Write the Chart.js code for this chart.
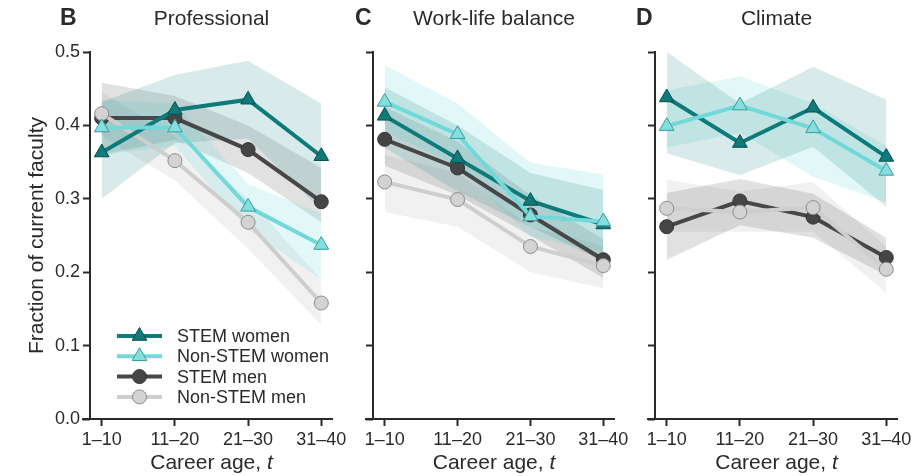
<!DOCTYPE html>
<html>
<head>
<meta charset="utf-8">
<script src="https://cdn.jsdelivr.net/npm/chart.js@4.4.1/dist/chart.umd.min.js"></script>
<style>
  html, body { margin: 0; padding: 0; background: #fff; }
  #wrap { position: relative; width: 918px; height: 476px; }
  #wrap canvas { position: absolute; left: 0; top: 0; }
</style>
</head>
<body>
<div id="wrap">
  <canvas id="panelB" width="918" height="476"></canvas>
  <canvas id="panelC" width="918" height="476"></canvas>
  <canvas id="panelD" width="918" height="476"></canvas>
</div>
<script>
// ---- data ----
const careerAges = ['1–10', '11–20', '21–30', '31–40'];
const yTicks = [0.0, 0.1, 0.2, 0.3, 0.4, 0.5];
const seriesNames = ['STEM women', 'Non-STEM women', 'STEM men', 'Non-STEM men'];
const panelLetters = ['B', 'C', 'D'];
const panelTitles = ['Professional', 'Work-life balance', 'Climate'];

// Professional
const proStemWomen      = [0.363, 0.421, 0.435, 0.358];
const proStemWomenLo    = [0.300, 0.376, 0.382, 0.285];
const proStemWomenHi    = [0.432, 0.469, 0.488, 0.430];
const proNonStemWomen   = [0.397, 0.397, 0.289, 0.237];
const proNonStemWomenLo = [0.360, 0.372, 0.258, 0.190];
const proNonStemWomenHi = [0.435, 0.430, 0.320, 0.280];
const proStemMen        = [0.410, 0.410, 0.367, 0.296];
const proStemMenLo      = [0.360, 0.380, 0.335, 0.268];
const proStemMenHi      = [0.458, 0.440, 0.400, 0.342];
const proNonStemMen     = [0.416, 0.352, 0.268, 0.158];
const proNonStemMenLo   = [0.385, 0.325, 0.232, 0.128];
const proNonStemMenHi   = [0.445, 0.385, 0.300, 0.190];

// Work-life balance
const wlStemWomen      = [0.413, 0.355, 0.297, 0.265];
const wlStemWomenLo    = [0.370, 0.310, 0.262, 0.215];
const wlStemWomenHi    = [0.452, 0.400, 0.335, 0.312];
const wlNonStemWomen   = [0.432, 0.388, 0.276, 0.269];
const wlNonStemWomenLo = [0.392, 0.345, 0.248, 0.228];
const wlNonStemWomenHi = [0.482, 0.430, 0.349, 0.333];
const wlStemMen        = [0.381, 0.342, 0.278, 0.217];
const wlStemMenLo      = [0.345, 0.305, 0.250, 0.192];
const wlStemMenHi      = [0.425, 0.378, 0.305, 0.245];
const wlNonStemMen     = [0.323, 0.299, 0.235, 0.209];
const wlNonStemMenLo   = [0.282, 0.262, 0.200, 0.178];
const wlNonStemMenHi   = [0.360, 0.335, 0.262, 0.236];

// Climate
const clStemWomen      = [0.438, 0.376, 0.424, 0.357];
const clStemWomenLo    = [0.362, 0.332, 0.371, 0.289];
const clStemWomenHi    = [0.500, 0.430, 0.480, 0.435];
const clNonStemWomen   = [0.399, 0.427, 0.396, 0.338];
const clNonStemWomenLo = [0.370, 0.390, 0.330, 0.295];
const clNonStemWomenHi = [0.448, 0.467, 0.430, 0.372];
const clStemMen        = [0.262, 0.297, 0.275, 0.220];
const clStemMenLo      = [0.217, 0.264, 0.247, 0.196];
const clStemMenHi      = [0.308, 0.327, 0.307, 0.247];
const clNonStemMen     = [0.287, 0.282, 0.288, 0.204];
const clNonStemMenLo   = [0.255, 0.255, 0.255, 0.172];
const clNonStemMenHi   = [0.326, 0.310, 0.323, 0.235];

// ---- styling ----
const FONT = '"Liberation Sans", Arial, Helvetica, sans-serif';
const INK = '#2a2a2a';

const seriesStyles = [
  { line: '#0e7a7a', fill: '#0e7a7a', edge: '#075050', shape: 'triangle', r: 8.5, band: 'rgba(14,122,122,0.16)', order: 2 },
  { line: '#72d8d8', fill: '#84dede', edge: '#3a9c9c', shape: 'triangle', r: 8.5, band: 'rgba(110,215,215,0.20)', order: 1 },
  { line: '#474747', fill: '#454545', edge: '#333333', shape: 'circle',   r: 7,   band: 'rgba(70,70,70,0.16)',    order: 4 },
  { line: '#cecece', fill: '#d3d3d3', edge: '#8c8c8c', shape: 'circle',   r: 7,   band: 'rgba(175,175,175,0.18)', order: 3 }
];

const panels = [
  {
    id: 'panelB', left: 90, right: 333, letterX: 60, yLabels: true, legend: true,
    means: [proStemWomen, proNonStemWomen, proStemMen, proNonStemMen],
    lo:    [proStemWomenLo, proNonStemWomenLo, proStemMenLo, proNonStemMenLo],
    hi:    [proStemWomenHi, proNonStemWomenHi, proStemMenHi, proNonStemMenHi]
  },
  {
    id: 'panelC', left: 373, right: 615, letterX: 355, yLabels: false, legend: false,
    means: [wlStemWomen, wlNonStemWomen, wlStemMen, wlNonStemMen],
    lo:    [wlStemWomenLo, wlNonStemWomenLo, wlStemMenLo, wlNonStemMenLo],
    hi:    [wlStemWomenHi, wlNonStemWomenHi, wlStemMenHi, wlNonStemMenHi]
  },
  {
    id: 'panelD', left: 655, right: 898, letterX: 636, yLabels: false, legend: false,
    means: [clStemWomen, clNonStemWomen, clStemMen, clNonStemMen],
    lo:    [clStemWomenLo, clNonStemWomenLo, clStemMenLo, clNonStemMenLo],
    hi:    [clStemWomenHi, clNonStemWomenHi, clStemMenHi, clNonStemMenHi]
  }
];

const PLOT_TOP = 52, PLOT_BOTTOM = 419, Y_AXIS_W = 40, X_AXIS_H = 30;

const toPoints = arr => arr.map((v, k) => ({ x: k, y: v }));

function buildDatasets(p) {
  const ds = [];
  // confidence bands: lower edge, then upper edge filled down to it
  p.means.forEach((_, i) => {
    const st = seriesStyles[i];
    ds.push({ data: toPoints(p.lo[i]), borderWidth: 0, pointRadius: 0, fill: false, order: 10, clip: false });
    ds.push({ data: toPoints(p.hi[i]), borderWidth: 0, pointRadius: 0, fill: '-1',
              backgroundColor: st.band, order: 10, clip: false });
  });
  // mean lines with markers
  p.means.forEach((m, i) => {
    const st = seriesStyles[i];
    ds.push({
      label: seriesNames[i], data: toPoints(m), fill: false, tension: 0,
      borderColor: st.line, backgroundColor: st.fill, borderWidth: 4,
      pointStyle: st.shape, pointRadius: st.r, pointBackgroundColor: st.fill,
      pointBorderColor: st.edge, pointBorderWidth: 1, order: st.order, clip: false
    });
  });
  return ds;
}

// spines, titles and legend
const decorPlugin = {
  id: 'decor',
  afterDraw(chart, args, opts) {
    const { ctx, chartArea: a, scales } = chart;
    const p = opts.panel;
    const yTop = scales.y.getPixelForValue(0.5);
    const yBot = scales.y.getPixelForValue(0);
    ctx.save();
    ctx.strokeStyle = INK;
    ctx.lineWidth = 2;
    ctx.beginPath();
    ctx.moveTo(a.left, yTop - 1);
    ctx.lineTo(a.left, yBot);
    ctx.moveTo(a.left - 8, yBot);
    ctx.lineTo(a.right, yBot);
    ctx.stroke();

    ctx.fillStyle = INK;
    // panel letter and title
    ctx.textBaseline = 'alphabetic';
    ctx.textAlign = 'left';
    ctx.font = `bold 23px ${FONT}`;
    ctx.fillText(opts.letter, p.letterX, 25);
    ctx.textAlign = 'center';
    ctx.font = `21px ${FONT}`;
    ctx.fillText(opts.title, (a.left + a.right) / 2, 25);

    // x-axis title with italic t
    const cx = (a.left + a.right) / 2;
    ctx.font = `21px ${FONT}`;
    const main = 'Career age, ';
    const w1 = ctx.measureText(main).width;
    ctx.font = `italic 21px ${FONT}`;
    const w2 = ctx.measureText('t').width;
    const x0 = cx - (w1 + w2) / 2;
    ctx.textAlign = 'left';
    ctx.font = `21px ${FONT}`;
    ctx.fillText(main, x0, 469);
    ctx.font = `italic 21px ${FONT}`;
    ctx.fillText('t', x0 + w1, 469);

    if (p.yLabels) {
      ctx.save();
      ctx.translate(43, (yTop + yBot) / 2);
      ctx.rotate(-Math.PI / 2);
      ctx.textAlign = 'center';
      ctx.font = `21px ${FONT}`;
      ctx.fillText('Fraction of current faculty', 0, 0);
      ctx.restore();
    }

    if (p.legend) {
      const lx0 = a.left + 27, lx1 = a.left + 72, tx = a.left + 87;
      seriesNames.forEach((name, i) => {
        const st = seriesStyles[i];
        const ry = 336 + i * 20.3;
        ctx.strokeStyle = st.line;
        ctx.lineWidth = 4;
        ctx.beginPath();
        ctx.moveTo(lx0, ry);
        ctx.lineTo(lx1, ry);
        ctx.stroke();
        ctx.fillStyle = st.fill;
        ctx.strokeStyle = st.edge;
        ctx.lineWidth = 1;
        Chart.helpers.drawPoint(ctx, { pointStyle: st.shape, radius: st.r, rotation: 0, borderWidth: 1 },
                                (lx0 + lx1) / 2, ry);
        ctx.fillStyle = INK;
        ctx.font = `18px ${FONT}`;
        ctx.textAlign = 'left';
        ctx.textBaseline = 'middle';
        ctx.fillText(name, tx, ry + 1);
      });
    }
    ctx.restore();
  }
};

panels.forEach((p, idx) => {
  const tickGrid = { drawOnChartArea: false, drawTicks: true, tickLength: 7, tickWidth: 2, tickColor: INK };
  new Chart(document.getElementById(p.id), {
    type: 'line',
    data: { datasets: buildDatasets(p) },
    options: {
      responsive: false,
      animation: false,
      devicePixelRatio: 1,
      events: [],
      layout: {
        padding: {
          left: p.left - Y_AXIS_W,
          right: 918 - p.right,
          top: PLOT_TOP,
          bottom: 476 - PLOT_BOTTOM - X_AXIS_H
        }
      },
      scales: {
        x: {
          type: 'linear', min: -0.16, max: 3.16,
          border: { display: false },
          grid: tickGrid,
          ticks: {
            color: INK, padding: 3, autoSkip: false, maxRotation: 0,
            font: { family: FONT, size: 18 },
            callback: v => careerAges[v] ?? ''
          },
          afterBuildTicks: s => { s.ticks = careerAges.map((_, i) => ({ value: i })); },
          afterFit: s => { s.height = X_AXIS_H; }
        },
        y: {
          type: 'linear', min: 0, max: 0.5,
          border: { display: false },
          grid: tickGrid,
          ticks: {
            display: p.yLabels, color: INK, padding: 3,
            font: { family: FONT, size: 18 },
            callback: v => v.toFixed(1)
          },
          afterBuildTicks: s => { s.ticks = yTicks.map(v => ({ value: v })); },
          afterFit: s => { s.width = Y_AXIS_W; }
        }
      },
      plugins: {
        legend: { display: false },
        tooltip: { enabled: false },
        title: { display: false },
        decor: { panel: p, letter: panelLetters[idx], title: panelTitles[idx] }
      }
    },
    plugins: [decorPlugin]
  });
});
</script>
</body>
</html>
